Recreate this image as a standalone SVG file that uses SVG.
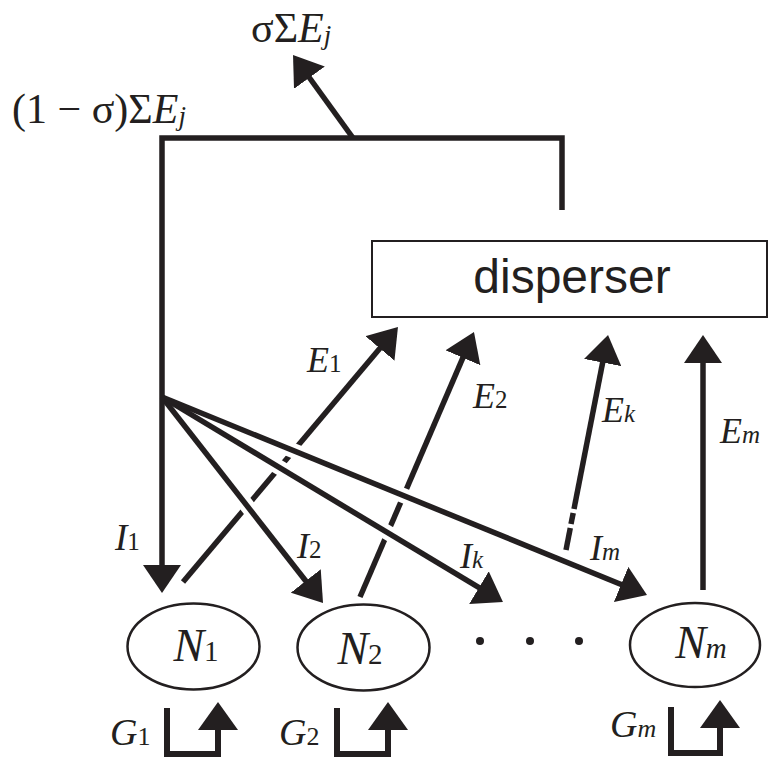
<svg xmlns="http://www.w3.org/2000/svg" width="770" height="760" viewBox="0 0 770 760">
<style>
.ln{fill:none;stroke:#231f20;stroke-width:5.5}
.halo{fill:none;stroke:#fff;stroke-width:15}
.box{fill:#fff;stroke:#231f20;stroke-width:2}
.node{fill:#fff;stroke:#231f20;stroke-width:2.5}
.gb{fill:none;stroke:#231f20;stroke-width:6}
.m{font-family:"Liberation Serif","Times New Roman",serif;fill:#231f20}
.it{font-style:italic}
.ss{font-family:"Liberation Sans",Arial,sans-serif;fill:#231f20}
</style>
<defs>
<marker id="ah" markerUnits="userSpaceOnUse" markerWidth="28" markerHeight="38" refX="20" refY="19" orient="auto" viewBox="0 0 28 38"><path d="M0,0 L28,19 L0,38 z" fill="#231f20"/></marker>
<marker id="gh" markerUnits="userSpaceOnUse" markerWidth="28" markerHeight="40" refX="20" refY="20" orient="auto" viewBox="0 0 28 40"><path d="M0,0 L28,20 L0,40 z" fill="#231f20"/></marker>
</defs>

<g id="labels-top">
<text class="m" x="251" y="42" font-size="42">σΣ<tspan class="it">E</tspan><tspan class="it" font-size="27" dy="2">j</tspan></text>
<text class="m" x="12" y="123" font-size="42">(1 − σ)Σ<tspan class="it">E</tspan><tspan class="it" font-size="27" dy="2">j</tspan></text>
</g>

<g id="disperser">
<rect class="box" x="372" y="241" width="395" height="76"/>
<text class="ss" x="572" y="293" font-size="48" text-anchor="middle">disperser</text>
</g>

<g id="connectors">
<line class="ln" x1="183" y1="582" x2="392.8" y2="333.1" marker-end="url(#ah)"/>
<line class="ln" x1="360" y1="597" x2="470.8" y2="339.4" marker-end="url(#ah)"/>
<line class="ln" x1="574" y1="509" x2="606.5" y2="342.9" marker-end="url(#ah)"/>
<line class="ln" x1="571" y1="524" x2="573.2" y2="513"/>
<line class="ln" x1="566" y1="550" x2="570.3" y2="528"/>
<line class="ln" x1="703" y1="590" x2="703" y2="343" marker-end="url(#ah)"/>
<line class="halo" x1="162" y1="397" x2="318.1" y2="596.7"/>
<line class="halo" x1="162" y1="397" x2="496.1" y2="597.9"/>
<line class="halo" x1="162" y1="397" x2="639.6" y2="592"/>
<line class="ln" x1="162" y1="397" x2="318.1" y2="596.7" marker-end="url(#ah)"/>
<line class="ln" x1="162" y1="397" x2="496.1" y2="597.9" marker-end="url(#ah)"/>
<line class="ln" x1="162" y1="397" x2="639.6" y2="592" marker-end="url(#ah)"/>
<path class="ln" d="M562,210 V138 H162 V585" marker-end="url(#ah)"/>
<line class="ln" x1="353" y1="138" x2="297.7" y2="61.5" marker-end="url(#ah)"/>
</g>

<g id="connector-labels">
<text class="m" x="307" y="372" font-size="36"><tspan class="it">E</tspan><tspan font-size="25">1</tspan></text>
<text class="m" x="473" y="408" font-size="36"><tspan class="it">E</tspan><tspan font-size="25">2</tspan></text>
<text class="m" x="602" y="422" font-size="36"><tspan class="it">E</tspan><tspan class="it" font-size="25">k</tspan></text>
<text class="m" x="720" y="443" font-size="36"><tspan class="it">E</tspan><tspan class="it" font-size="25">m</tspan></text>
<text class="m" x="115" y="550" font-size="37"><tspan class="it">I</tspan><tspan font-size="25">1</tspan></text>
<text class="m" x="297" y="558" font-size="36"><tspan class="it">I</tspan><tspan font-size="25">2</tspan></text>
<text class="m" x="460" y="568" font-size="36"><tspan class="it">I</tspan><tspan class="it" font-size="25">k</tspan></text>
<text class="m" x="590" y="560" font-size="36"><tspan class="it">I</tspan><tspan class="it" font-size="25">m</tspan></text>
</g>

<g id="N1">
<ellipse class="node" cx="193.5" cy="646.5" rx="66" ry="43"/>
<text class="m" x="196" y="661" font-size="46" text-anchor="middle"><tspan class="it">N</tspan><tspan font-size="29">1</tspan></text>
</g>
<g id="N2">
<ellipse class="node" cx="363.5" cy="647.5" rx="66" ry="43"/>
<text class="m" x="360" y="664" font-size="46" text-anchor="middle"><tspan class="it">N</tspan><tspan font-size="29">2</tspan></text>
</g>
<g id="dots" fill="#231f20">
<circle cx="480" cy="641" r="4"/>
<circle cx="530" cy="641" r="4"/>
<circle cx="579" cy="641" r="4"/>
</g>
<g id="Nm">
<ellipse class="node" cx="695" cy="645" rx="65" ry="42"/>
<text class="m" x="701" y="658" font-size="46" text-anchor="middle"><tspan class="it">N</tspan><tspan class="it" font-size="29">m</tspan></text>
</g>

<g id="G1">
<path class="gb" d="M167,708 V754 H218 V710" marker-end="url(#gh)"/>
<text class="m" x="110" y="745" font-size="38"><tspan class="it">G</tspan><tspan font-size="26">1</tspan></text>
</g>
<g id="G2">
<path class="gb" d="M337,708 V754 H388 V710" marker-end="url(#gh)"/>
<text class="m" x="279" y="745" font-size="38"><tspan class="it">G</tspan><tspan font-size="26">2</tspan></text>
</g>
<g id="Gm">
<path class="gb" d="M671,707 V753 H720 V708" marker-end="url(#gh)"/>
<text class="m" x="610" y="737" font-size="38"><tspan class="it">G</tspan><tspan class="it" font-size="26">m</tspan></text>
</g>
</svg>
